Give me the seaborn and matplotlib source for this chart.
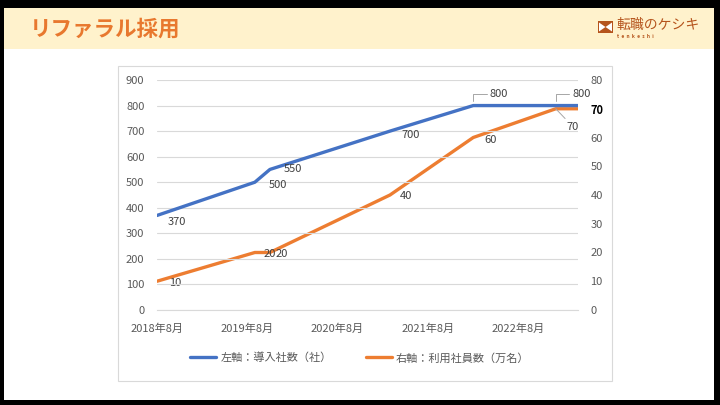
import pandas as pd
import matplotlib
matplotlib.use('Agg')
import matplotlib.pyplot as plt
from matplotlib.patches import Rectangle, Polygon
from matplotlib.lines import Line2D
import seaborn as sns

# data (date axis, left = companies, right = users in 10k)
months = ['2018-08', '2019-09', '2019-11', '2021-03', '2022-02', '2023-01', '2023-04']
companies = [370, 500, 550, 700, 800, 800, 800]
users = [10, 20, 20, 40, 60, 70, 70]
year_ticks = ['2018-08', '2019-08', '2020-08', '2021-08', '2022-08']
year_labels = ['2018年8月', '2019年8月', '2020年8月', '2021年8月', '2022年8月']
legend_labels = ['左軸：導入社数（社）', '右軸：利用社員数（万名）']
title = 'リファラル採用'

df = pd.DataFrame({'date': pd.to_datetime(months), 'companies': companies, 'users': users})

sns.set_theme(style='white')
plt.rcParams['font.family'] = ['Noto Sans CJK JP', 'DejaVu Sans']

BLUE = '#4472C4'
ORANGE = '#ED7D31'
GRAY = '#595959'
LABEL = '#404040'

W, H = 720, 405
fig = plt.figure(figsize=(7.2, 4.05), dpi=100)
fig.patch.set_facecolor('black')


def fx(x):
    return x / W


def fy(y):
    return 1 - y / H


def rect(x0, y0, x1, y1, **kw):
    r = Rectangle((fx(x0), fy(y1)), fx(x1) - fx(x0), fy(y0) - fy(y1),
                  transform=fig.transFigure, **kw)
    fig.add_artist(r)
    return r


# slide background, header band and chart frame
rect(4, 8, 714, 400, facecolor='white', edgecolor='none', zorder=-10)
rect(4, 8, 714, 49, facecolor='#FFF2CC', edgecolor='none', zorder=-9)
rect(118, 66, 612, 381, facecolor='white', edgecolor='#D9D9D9', lw=0.8, zorder=-8)

fig.text(fx(30), fy(29), title, color='#E8782E', fontsize=15.5, fontweight='bold',
         ha='left', va='center')

# logo
rect(598, 21, 613, 33, facecolor='#B5541C', edgecolor='none', zorder=2)
fig.add_artist(Polygon([(fx(599), fy(22.5)), (fx(605.5), fy(27)), (fx(599), fy(31.5))],
                       closed=True, transform=fig.transFigure, facecolor='white',
                       edgecolor='none', zorder=3))
fig.add_artist(Polygon([(fx(612), fy(22.5)), (fx(605.5), fy(27)), (fx(612), fy(31.5))],
                       closed=True, transform=fig.transFigure, facecolor='white',
                       edgecolor='none', zorder=3))
fig.text(fx(616), fy(25), '転職のケシキ', color='#B5541C', fontsize=10, ha='left', va='center')
fig.text(fx(617), fy(36.5), 't  e  n  k  e  s  h  i', color='#B5541C', fontsize=3.5,
         ha='left', va='center', fontweight='bold')

# main axes
ax = fig.add_axes([fx(157), fy(310), fx(578) - fx(157), fy(80) - fy(310)])
ax.set_facecolor('none')
ax2 = ax.twinx()
ax2.set_facecolor('none')

sns.lineplot(data=df, x='date', y='companies', ax=ax, color=BLUE, lw=2.4, legend=False)
sns.lineplot(data=df, x='date', y='users', ax=ax2, color=ORANGE, lw=2.4, legend=False)
ax.set_zorder(2)
ax2.set_zorder(1)

ax.set_xlim(df['date'].iloc[0], df['date'].iloc[-1])
ax.set_ylim(0, 900)
ax2.set_ylim(0, 80)
ax.set_yticks(range(0, 901, 100))
ax2.set_yticks(range(0, 81, 10))
ax.set_xticks(pd.to_datetime(year_ticks))
ax.set_xticklabels(year_labels)
ax.set_xlabel('')
ax.set_ylabel('')
ax2.set_ylabel('')

ax.yaxis.grid(True, color='#D9D9D9', lw=0.8)
ax.set_axisbelow(True)
for a in (ax, ax2):
    for s in a.spines.values():
        s.set_visible(False)
ax.spines['bottom'].set_visible(True)
ax.spines['bottom'].set_color('#D9D9D9')
ax.spines['bottom'].set_linewidth(0.8)

ax.tick_params(axis='x', length=4, width=0.8, color='#D9D9D9', pad=6, labelsize=8, labelcolor=GRAY)
ax.tick_params(axis='y', length=0, pad=9, labelsize=8, labelcolor=GRAY)
ax2.tick_params(axis='y', length=0, pad=9, labelsize=8, labelcolor=GRAY)
for t in ax2.get_yticklabels():
    if t.get_text() == '70':
        t.set_fontweight('bold')
        t.set_color('black')

# data labels
lead = dict(arrowstyle='-', color='#A6A6A6', lw=0.7, shrinkA=0, shrinkB=3)
blue_off = [(8, -5), (10, -2), (10, 0), (8, -3), (12, 8), (12, 8)]
for i, off in enumerate(blue_off):
    d, v = df['date'].iloc[i], df['companies'].iloc[i]
    kw = {}
    if i >= 4:
        kw['arrowprops'] = dict(lead, connectionstyle='angle,angleA=0,angleB=90')
    ax.annotate(str(v), (d, v), xytext=off, textcoords='offset points', fontsize=8,
                color=LABEL, ha='left', va='center', **kw)

orange_off = [(9, -1), (6, -1), (4, -1), (7, -1), (8, -2), (8, -13)]
for i, off in enumerate(orange_off):
    d, v = df['date'].iloc[i], df['users'].iloc[i]
    kw = {}
    if i == 5:
        kw['arrowprops'] = dict(lead, shrinkB=0)
    ax2.annotate(str(v), (d, v), xytext=off, textcoords='offset points', fontsize=8,
                 color=LABEL, ha='left', va='center', **kw)

handles = [Line2D([], [], color=BLUE, lw=2.4), Line2D([], [], color=ORANGE, lw=2.4)]
fig.legend(handles, legend_labels, loc='center', bbox_to_anchor=(fx(360), fy(358)),
           ncol=2, frameon=False, fontsize=8, labelcolor=GRAY, handlelength=2.3,
           columnspacing=3.1, handletextpad=0.4)

fig.savefig('out.png', dpi=100, facecolor=fig.get_facecolor())
